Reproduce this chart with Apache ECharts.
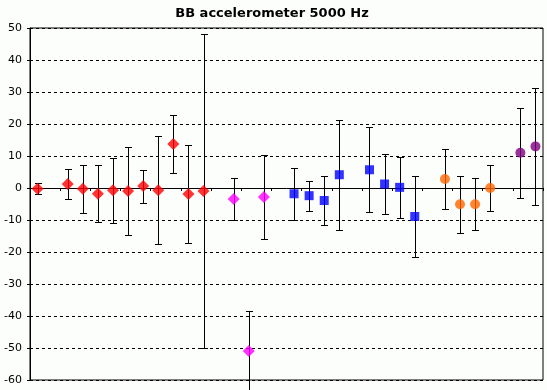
<!DOCTYPE html>
<html>
<head>
<meta charset="utf-8">
<script src="https://cdn.jsdelivr.net/npm/echarts@6/dist/echarts.min.js"></script>
<style>html,body{margin:0;padding:0;background:#fcfefc;}#c{width:547px;height:390px;}</style>
</head>
<body>
<div id="c"></div>
<script>
// ---- data ----
const titleText = 'BB accelerometer 5000 Hz';
const categoryCount = 34;
const yTicks = [-60, -50, -40, -30, -20, -10, 0, 10, 20, 30, 40, 50];

const redX = [0, 2, 3, 4, 5, 6, 7, 8, 9, 10, 11];
const redY = [-0.2, 1.25, -0.2, -1.8, -0.7, -0.9, 0.6, -0.7, 13.75, -1.9, -0.9];
const redErr = [1.65, 4.6, 7.5, 8.9, 10.15, 13.85, 5.15, 16.95, 9.05, 15.4, 49.1];

const magentaX = [13, 14, 15];
const magentaY = [-3.45, -50.9, -2.8];
const magentaErr = [6.55, 12.4, 13.1];

const blueX = [17, 18, 19, 20, 22, 23, 24, 25];
const blueY = [-1.8, -2.4, -3.9, 4.15, 5.7, 1.25, 0.2, -8.9];
const blueErr = [8.2, 4.65, 7.7, 17.2, 13.3, 9.35, 9.55, 12.65];

const orangeX = [27, 28, 29, 30];
const orangeY = [2.8, -5.1, -5.1, 0.0];
const orangeErr = [9.25, 8.9, 8.1, 7.05];

const purpleX = [32, 33];
const purpleY = [11.0, 13.0];
const purpleErr = [14.05, 18.4];

// ---- build ----
const categories = Array.from({length: categoryCount}, (_, i) => String(i + 1));
const groups = [
  {name: 'red', x: redX, y: redY, e: redErr, color: '#ff0000', symbol: 'diamond', size: 12},
  {name: 'magenta', x: magentaX, y: magentaY, e: magentaErr, color: '#ff00ff', symbol: 'diamond', size: 12},
  {name: 'blue', x: blueX, y: blueY, e: blueErr, color: '#0000ff', symbol: 'rect', size: 9},
  {name: 'orange', x: orangeX, y: orangeY, e: orangeErr, color: '#ff6600', symbol: 'circle', size: 10},
  {name: 'purple', x: purpleX, y: purpleY, e: purpleErr, color: '#800080', symbol: 'circle', size: 10}
];

const errData = [];
groups.forEach(g => g.x.forEach((xi, i) => errData.push([xi, g.y[i] - g.e[i], g.y[i] + g.e[i]])));

function renderErr(params, api) {
  const lo = api.coord([api.value(0), api.value(1)]);
  const hi = api.coord([api.value(0), api.value(2)]);
  const x = Math.round(lo[0]) + 0.5;
  const y1 = Math.round(lo[1]) + 0.5;
  const y2 = Math.round(hi[1]) + 0.5;
  const hw = 3.5;
  const style = {stroke: '#000', lineWidth: 1, fill: null};
  return {
    type: 'group',
    children: [
      {type: 'line', shape: {x1: x, y1: y1, x2: x, y2: y2}, style: style},
      {type: 'line', shape: {x1: x - hw, y1: y1, x2: x + hw, y2: y1}, style: style},
      {type: 'line', shape: {x1: x - hw, y1: y2, x2: x + hw, y2: y2}, style: style}
    ]
  };
}

const series = [{
  type: 'custom',
  renderItem: renderErr,
  data: errData,
  encode: {x: 0, y: [1, 2]},
  clip: false,
  z: 2,
  silent: true
}];
groups.forEach(g => {
  series.push({
    type: 'scatter',
    name: g.name,
    symbol: g.symbol,
    symbolSize: g.size,
    itemStyle: {color: g.color},
    data: g.x.map((xi, i) => [xi, g.y[i]]),
    z: 3,
    silent: true
  });
});

const chart = echarts.init(document.getElementById('c'), null, {renderer: 'canvas'});
chart.setOption({
  animation: false,
  backgroundColor: '#fcfefc',
  title: {
    text: titleText,
    left: 267,
    textAlign: 'center',
    top: 2,
    textStyle: {fontFamily: 'DejaVu Sans', fontWeight: 'bold', fontSize: 13, color: '#000'}
  },
  grid: {left: 30, right: 4, top: 28, height: 352, show: true, borderColor: '#000', borderWidth: 1, backgroundColor: 'transparent'},
  xAxis: {
    type: 'category',
    data: categories,
    boundaryGap: true,
    axisLine: {onZero: true, lineStyle: {color: '#000', width: 1}},
    axisTick: {show: true, inside: false, length: 3, lineStyle: {color: '#000'}},
    axisLabel: {show: false},
    splitLine: {show: false}
  },
  yAxis: {
    type: 'value',
    min: yTicks[0],
    max: yTicks[yTicks.length - 1],
    interval: 10,
    axisLine: {show: true, lineStyle: {color: '#000', width: 1}},
    axisTick: {show: true, inside: false, length: 3, lineStyle: {color: '#000'}},
    axisLabel: {fontFamily: 'DejaVu Sans', fontSize: 11, color: '#000', margin: 8},
    splitLine: {show: true, lineStyle: {color: '#000', type: [3, 3], width: 1}}
  },
  series: series
});
</script>
</body>
</html>
